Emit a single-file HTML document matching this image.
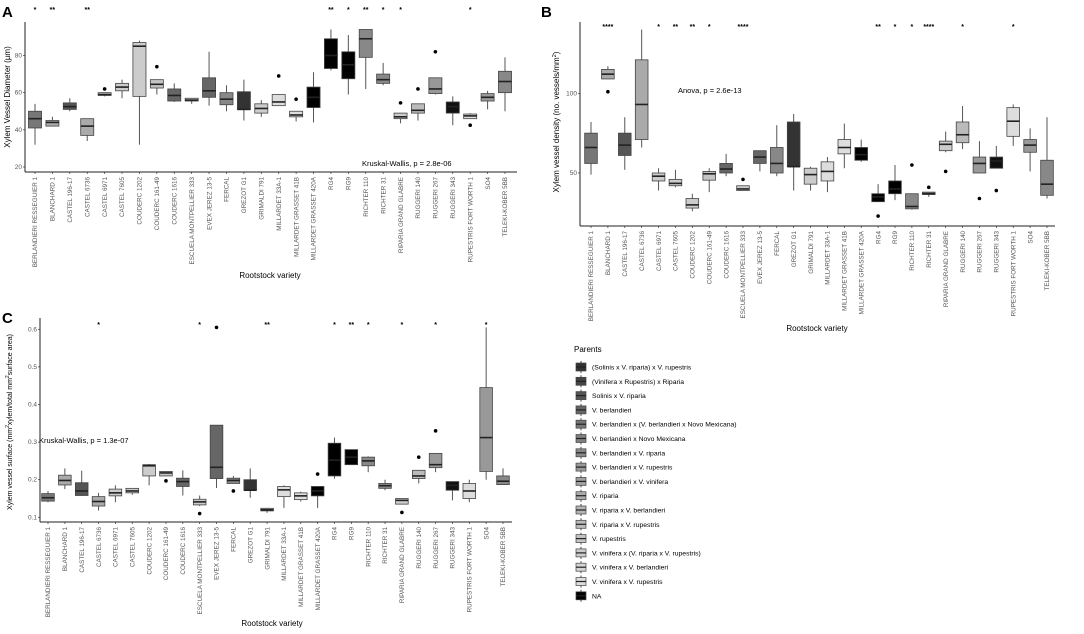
<!DOCTYPE html>
<html><head><meta charset="utf-8"><style>
body{margin:0;background:#fff;width:1084px;height:634px;overflow:hidden;font-family:"Liberation Sans",sans-serif}
svg{position:absolute;left:0;top:0}
</style></head><body>
<svg id="fig" width="1084" height="634" xmlns="http://www.w3.org/2000/svg"></svg>
<script>
const categories=["BERLANDIERI RESSEGUIER 1","BLANCHARD 1","CASTEL 196-17","CASTEL 6736","CASTEL 6971","CASTEL 7605","COUDERC 1202","COUDERC 161-49","COUDERC 1616","ESCUELA MONTPELLIER 333","EVEX JEREZ 13-5","FERCAL","GREZOT G1","GRIMALDI 791","MILLARDET 33A-1","MILLARDET GRASSET 41B","MILLARDET GRASSET 420A","RG4","RG9","RICHTER 110","RICHTER 31","RIPARIA GRAND GLABRE","RUGGERI 140","RUGGERI 267","RUGGERI 343","RUPESTRIS FORT WORTH 1","SO4","TELEKI-KOBER 5BB"];
const fills=["#777","#aaa","#555","#aaa","#ccc","#ccc","#ccc","#c4c4c4","#666","#ccc","#666","#888","#333","#ccc","#ddd","#ddd","#000","#000","#000","#888","#888","#ccc","#bbb","#999","#111","#ddd","#999","#888"];
// Panel A
const aLow=[32,42,50,34,58,57,32,59,55,54,53,50,45,47,53,44.5,44,72,59,62,64,43.5,45,59,42.5,47,51,50];
const aQ1=[41,42,51,37,58.5,61,58,62.5,55.5,55.5,57.5,53.5,51,49,53,47,52,73,67.5,79,65,46,49,59.5,49,46,55.5,60];
const aMed=[46,44,52.5,42,59,63,85,64.5,58.5,56,61,56.5,51,51.5,55,48,57.5,80,75,89,67,47,50.5,62,52.5,47.5,57.5,66];
const aQ3=[50,45,54.5,46,60,65,87,67,62,57,68,60,60.5,54,59,50,63,89,82,94,70,49,54,68,55,48.5,59.5,71.5];
const aHigh=[54,47,57,46,60,67,88,67,65,57,82,64,67,56,59,50,71,94,91,94,76,49,54,68,58,49,61,79];
const aOut=[null,null,null,null,62,null,null,74,null,null,null,null,null,null,69,56.5,null,null,null,null,null,54.5,62,82,null,42.5,null,null];
const aSig=["*","**","","**","","","","","","","","","","","","","","**","*","**","*","*","","","","*","",""];
const aTicks=[20,40,60,80];
// Panel B
const bLow=[49,110,52,66,39,41,26,38,48,39,51,48,39,39,38,53,57,32,33,27,35,63,65,50,53,67,51,34];
const bQ1=[56,109,61,71,45,42,28,45.5,50,39,56,50,54,43,45,62,58,32,37,27.5,36.5,64,69,50,53,73,63,36];
const bMed=[66,112,67.5,93,48,43.5,30,49.5,52.5,40,60,56,54,49,51,66,61.5,35,40,29,37,68,74,56,57.5,82.5,67.5,43];
const bQ3=[75,115,75,121,50,46,34,51,56,42,64,66,82,53,57,71,66,37,45,37,38,70,82,60,60,91,71,58];
const bHigh=[82,117,85,140,53,52,37,53,62,42,64,80,87,54,60,81,71,43,55,37,38,76,92,70,67,93,78,85];
const bOut=[null,101,null,null,null,null,null,null,null,46,null,null,null,null,null,null,null,23,null,55,41,51,null,34,39,null,null,null];
const bSig=["","****","","","*","**","**","*","","****","","","","","","","","**","*","*","****","","*","","","*","",""];
const bTicks=[50,100];
// Panel C
const cLow=[.14,.175,.157,.118,.14,.16,.185,.21,.158,.13,.178,.19,.152,.112,.125,.142,.125,.203,.24,.22,.172,.135,.19,.22,.145,.14,.2,.187];
const cQ1=[.143,.186,.158,.13,.157,.165,.21,.21,.182,.133,.203,.19,.172,.117,.155,.147,.157,.21,.24,.237,.177,.135,.203,.232,.172,.15,.222,.187];
const cMed=[.152,.198,.17,.142,.165,.17,.237,.218,.195,.141,.233,.198,.172,.12,.173,.157,.17,.252,.26,.25,.184,.145,.21,.24,.185,.17,.312,.196];
const cQ3=[.163,.212,.192,.155,.175,.177,.24,.222,.204,.148,.345,.204,.2,.124,.182,.165,.182,.297,.28,.26,.19,.15,.225,.27,.195,.19,.445,.21];
const cHigh=[.17,.23,.224,.165,.185,.178,.242,.222,.225,.158,.345,.21,.23,.125,.185,.168,.183,.312,.28,.262,.2,.15,.225,.27,.195,.2,.605,.23];
const cOut=[null,null,null,null,null,null,null,.197,null,.11,.605,.17,null,null,null,null,.215,null,null,null,null,.113,.26,.33,null,null,null,null];
const cSig=["","","","*","","","","","","*","","","","**","","","","*","**","*","","*","","*","","","*",""];
const cTicks=[0.1,0.2,0.3,0.4,0.5,0.6];
const legendLabels=["(Solinis x V. riparia) x V. rupestris","(Vinifera x Rupestris) x Riparia","Solinis x V. riparia","V. berlandieri","V. berlandieri x (V. berlandieri x Novo Mexicana)","V. berlandieri x Novo Mexicana","V. berlandieri x V. riparia","V. berlandieri x V. rupestris","V. berlandieri x V. vinifera","V. riparia","V. riparia x V. berlandieri","V. riparia x V. rupestris","V. rupestris","V. vinifera x (V. riparia x V. rupestris)","V. vinifera x V. berlandieri","V. vinifera x V. rupestris","NA"];
const legendFills=["#333","#444","#555","#666","#777","#808080","#888","#999","#a0a0a0","#aaa","#b5b5b5","#bbb","#c4c4c4","#ccc","#d5d5d5","#ddd","#000"];

const NS="http://www.w3.org/2000/svg";
const svg=document.getElementById('fig');
function mk(tag,attrs,parent,txt){const e=document.createElementNS(NS,tag);for(const k in attrs)e.setAttribute(k,attrs[k]);if(txt!==undefined)e.textContent=txt;(parent||svg).appendChild(e);return e;}

function panel(p){
  const g=mk('g',{});
  
  
  const yS=v=>p.y0+(v-p.v0)*(p.y1-p.y0)/(p.v1-p.v0);
  const xS=i=>p.xFirst+i*(p.xLast-p.xFirst)/(categories.length-1);
  const step=(p.xLast-p.xFirst)/(categories.length-1);
  const bw=step*0.75;
  const ya=mk('line',{x1:p.ax,y1:p.top,x2:p.ax,y2:p.bottom,stroke:'#222','stroke-width':1},g);
  
  const xa=mk('line',{x1:p.ax,y1:p.bottom,x2:p.right,y2:p.bottom,stroke:'#222','stroke-width':1},g);
  
  p.ticks.forEach(t=>{
    const y=yS(t);
    mk('line',{x1:p.ax-2,y1:y,x2:p.ax,y2:y,stroke:'#333','stroke-width':.7},g);
    const tl=mk('text',{x:p.ax-3,y:y+2,'font-size':6.5,fill:'#555','text-anchor':'end'},g,String(t));
    
  });
  categories.forEach((c,i)=>{
    const x=xS(i);
    mk('line',{x1:x,y1:p.bottom,x2:x,y2:p.bottom+2,stroke:'#333','stroke-width':.7},g);
    const tl=mk('text',{x:0,y:0,'font-size':6.3,fill:'#555','text-anchor':'end',transform:`translate(${x+2.2},${p.bottom+5}) rotate(-90)`},g,c);
    
    const bg=mk('g',{},g);
    
    
    mk('line',{x1:x,y1:yS(p.low[i]),x2:x,y2:yS(p.q1[i]),stroke:'#555','stroke-width':1},bg);
    mk('line',{x1:x,y1:yS(p.q3[i]),x2:x,y2:yS(p.high[i]),stroke:'#555','stroke-width':1},bg);
    const y3=yS(p.q3[i]),y1=yS(p.q1[i]);
    mk('rect',{x:x-bw/2,y:y3,width:bw,height:Math.max(1,y1-y3),fill:fills[i],stroke:'#444','stroke-width':.8},bg);
    const med=yS(p.med[i]);
    mk('line',{x1:x-bw/2,y1:med,x2:x+bw/2,y2:med,stroke:'#222','stroke-width':1.6},bg);
    if(p.out[i]!==null){const o=mk('circle',{cx:x,cy:yS(p.out[i]),r:1.8,fill:'#000'},bg);
      }
    if(p.sig[i]){const s=mk('text',{x:x,y:p.sigY,'font-size':7,'font-weight':'bold',fill:'#000','text-anchor':'middle'},g,p.sig[i]);
      }
  });
  const yt=mk('text',{x:0,y:0,'font-size':p.yfs||8,fill:'#000','text-anchor':'middle',transform:`translate(${p.ylx},${p.yly}) rotate(-90)`},g);
  
  yt.innerHTML=p.ytitle;
  const xt=mk('text',{x:p.xtx,y:p.xty,'font-size':8,fill:'#000','text-anchor':'middle'},g,'Rootstock variety');
  
  const an=mk('text',{x:p.anx,y:p.any,'font-size':7.5,fill:'#000'},g,p.ann);
  
  const pl=mk('text',{x:p.lx,y:p.ly,'font-size':15,'font-weight':'bold',fill:'#000'},g,p.letter);
  
}
panel({name:'panel-a-diameter',letter:'A',lx:2,ly:17,v0:20,v1:80,y0:167,y1:55.5,ax:25,top:22,bottom:172,right:517,xFirst:35,xLast:505,
  low:aLow,q1:aQ1,med:aMed,q3:aQ3,high:aHigh,out:aOut,sig:aSig,ticks:aTicks,sigY:12,
  ylx:10,yly:97,ytitle:'Xylem Vessel Diameter (µm)',xtx:270,xty:278,anx:362,any:166,ann:'Kruskal-Wallis, p = 2.8e-06'});
panel({name:'panel-b-density',letter:'B',lx:541,ly:17,v0:50,v1:100,y0:173,y1:93.3,ax:580,top:22,bottom:226,right:1055,xFirst:591,xLast:1047,
  low:bLow,q1:bQ1,med:bMed,q3:bQ3,high:bHigh,out:bOut,sig:bSig,ticks:bTicks,sigY:29,
  ylx:559,yly:122,ytitle:'Xylem vessel density (no. vessels/mm<tspan dy="-3" font-size="5.5">2</tspan><tspan dy="3">)</tspan>',xtx:817,xty:331,anx:678,any:93,ann:'Anova, p = 2.6e-13'});
panel({name:'panel-c-surface',letter:'C',lx:2,ly:323,v0:0.1,v1:0.6,y0:517.3,y1:329.3,ax:40,top:318,bottom:522,right:512,xFirst:48,xLast:503,
  low:cLow,q1:cQ1,med:cMed,q3:cQ3,high:cHigh,out:cOut,sig:cSig,ticks:cTicks,sigY:327,yfs:7,
  ylx:12,yly:422,ytitle:'Xylem vessel surface (mm<tspan dy="-3" font-size="5">2</tspan><tspan dy="3">xylem/total mm</tspan><tspan dy="-3" font-size="5">2</tspan><tspan dy="3">surface area)</tspan>',xtx:272,xty:626,anx:39,any:443,ann:'Kruskal-Wallis, p = 1.3e-07'});
const lg=mk('g',{});


const lt=mk('text',{x:574,y:352,'font-size':8,fill:'#000'},lg,'Parents');

legendLabels.forEach((l,i)=>{
  const y=367+i*14.3;
  const e=mk('g',{},lg);
  
  
  mk('line',{x1:581,y1:y-6,x2:581,y2:y+6,stroke:'#444','stroke-width':1},e);
  mk('rect',{x:576,y:y-4,width:10,height:8,fill:legendFills[i],stroke:'#444','stroke-width':.7},e);
  mk('line',{x1:576,y1:y,x2:586,y2:y,stroke:'#222','stroke-width':1.2},e);
  mk('text',{x:592,y:y+2.5,'font-size':6.8,fill:'#000'},e,l);
});
</script>
</body></html>
